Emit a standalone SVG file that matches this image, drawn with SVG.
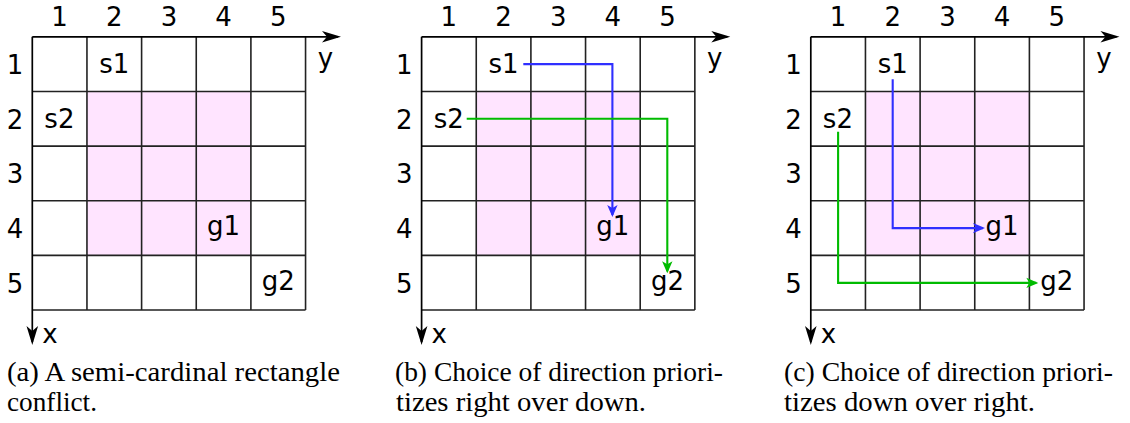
<svg xmlns="http://www.w3.org/2000/svg" width="1130" height="423" viewBox="0 0 1130 423">
<style>
.lab{font-family:"DejaVu Sans",sans-serif;font-size:26px;fill:#000;text-anchor:middle}
.cap{font-family:"Liberation Serif",serif;font-size:27px;fill:#000}
.grid{stroke:#222;stroke-width:1.6;fill:none}
.axis{stroke:#000;stroke-width:1.7;fill:none}
.blue{stroke:#2f2fff;stroke-width:2.1;fill:none}
.green{stroke:#00bb00;stroke-width:2.1;fill:none}
.pink{fill:#ffe4ff}
</style>
<defs>
<marker id="axhead" markerUnits="userSpaceOnUse" orient="auto" refX="0" refY="0" viewBox="-20 -8 24 16" markerWidth="24" markerHeight="16" overflow="visible">
<path d="M3,0 L-16,-5.8 L-11,0 L-16,5.8 Z" fill="#000"/>
</marker>
<marker id="bhead" markerUnits="userSpaceOnUse" orient="auto" refX="0" refY="0" viewBox="-12 -6 16 12" markerWidth="16" markerHeight="12" overflow="visible">
<path d="M2,0 L-10,-5.2 L-7,0 L-10,5.2 Z" fill="#2f2fff"/>
</marker>
<marker id="ghead" markerUnits="userSpaceOnUse" orient="auto" refX="0" refY="0" viewBox="-12 -6 16 12" markerWidth="16" markerHeight="12" overflow="visible">
<path d="M2,0 L-10,-5.2 L-7,0 L-10,5.2 Z" fill="#00bb00"/>
</marker>
<g id="board">
<rect class="pink" x="86.95" y="91.45" width="163.95" height="163.95"/>
<path class="grid" d="M32.3,91.45H305.55M32.3,146.1H305.55M32.3,200.75H305.55M32.3,255.4H305.55M32.3,310.05H305.55M86.95,36.8V310.05M141.6,36.8V310.05M196.25,36.8V310.05M250.9,36.8V310.05M305.55,36.8V310.05"/>
<path class="axis" d="M32.3,36.8H338" marker-end="url(#axhead)"/>
<path class="axis" d="M32.3,36.8V342" marker-end="url(#axhead)"/>
<text class="lab" x="59.6" y="26">1</text>
<text class="lab" x="114.3" y="26">2</text>
<text class="lab" x="168.9" y="26">3</text>
<text class="lab" x="223.6" y="26">4</text>
<text class="lab" x="278.2" y="26">5</text>
<text class="lab" x="15" y="74">1</text>
<text class="lab" x="15" y="128.6">2</text>
<text class="lab" x="15" y="183.3">3</text>
<text class="lab" x="15" y="238">4</text>
<text class="lab" x="15" y="292.6">5</text>
<text class="lab" x="325.5" y="67">y</text>
<text class="lab" x="50" y="343">x</text>
</g>
</defs>

<g id="panel-a">
<use href="#board"/>
<g id="a-s1"><text class="lab" x="114.3" y="73.3">s1</text></g>
<g id="a-s2"><text class="lab" x="59.4" y="128.3">s2</text></g>
<g id="a-g1"><text class="lab" x="223.4" y="235">g1</text></g>
<g id="a-g2"><text class="lab" x="278.3" y="290">g2</text></g>
<text class="cap" x="7" y="381" textLength="333" lengthAdjust="spacingAndGlyphs">(a) A semi-cardinal rectangle</text>
<text class="cap" x="7" y="410.5" textLength="90" lengthAdjust="spacingAndGlyphs">conflict.</text>
</g>

<g id="panel-b" transform="translate(389.3,0)">
<use href="#board"/>
<g id="b-s1"><text class="lab" x="114.3" y="73.3">s1</text></g>
<g id="b-s2"><text class="lab" x="59.4" y="128.3">s2</text></g>
<g id="b-g1"><text class="lab" x="223.4" y="235">g1</text></g>
<g id="b-g2"><text class="lab" x="278.3" y="290">g2</text></g>
<text class="cap" x="5.7" y="381" textLength="328" lengthAdjust="spacingAndGlyphs">(b) Choice of direction priori-</text>
<text class="cap" x="6.7" y="410.5" textLength="250" lengthAdjust="spacingAndGlyphs">tizes right over down.</text>
</g>

<g id="panel-c" transform="translate(778.5,0)">
<use href="#board"/>
<g id="c-s1"><text class="lab" x="114.3" y="73.3">s1</text></g>
<g id="c-s2"><text class="lab" x="59.4" y="128.3">s2</text></g>
<g id="c-g1"><text class="lab" x="223.4" y="235">g1</text></g>
<g id="c-g2"><text class="lab" x="278.3" y="290">g2</text></g>
<text class="cap" x="5.5" y="381" textLength="329" lengthAdjust="spacingAndGlyphs">(c) Choice of direction priori-</text>
<text class="cap" x="5.5" y="410.5" textLength="251" lengthAdjust="spacingAndGlyphs">tizes down over right.</text>
</g>

<g id="connectors">
<path class="blue" d="M523.3,64.1H612.4V215" marker-end="url(#bhead)"/>
<path class="green" d="M466.7,118.8H667.3V271.3" marker-end="url(#ghead)"/>
<path class="blue" d="M892.7,79.3V228.1H983" marker-end="url(#bhead)"/>
<path class="green" d="M838.1,131.7V282.9H1036.3" marker-end="url(#ghead)"/>
</g>
</svg>
